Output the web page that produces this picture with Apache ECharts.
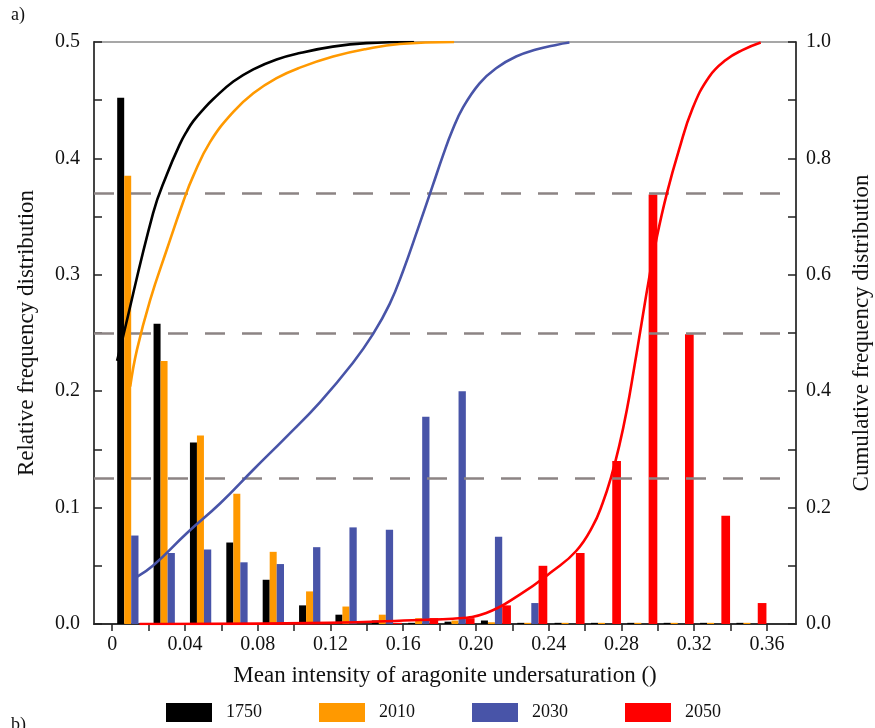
<!DOCTYPE html>
<html>
<head>
<meta charset="utf-8">
<script src="https://cdn.jsdelivr.net/npm/echarts@6/dist/echarts.min.js"></script>
<style>html,body{margin:0;padding:0;background:#fff;}#c{width:875px;height:728px;}</style>
</head>
<body>
<div id="c"></div>
<script>
// ---- data ----
const years = ['1750', '2010', '2030', '2050'];
const colors = ['#000000', '#ff9900', '#4854a8', '#ff0000'];
const binCenters = [0.011, 0.031, 0.051, 0.071, 0.091, 0.111, 0.131, 0.151, 0.171, 0.191, 0.211, 0.231, 0.2515, 0.2715, 0.2915, 0.3115, 0.3315, 0.3515];
const freq1750 = [0.452, 0.258, 0.156, 0.070, 0.038, 0.016, 0.008, 0.003, 0.001, 0.002, 0.003, 0.001, 0.001, 0.001, 0.001, 0.001, 0.001, 0.001];
const freq2010 = [0.385, 0.226, 0.162, 0.112, 0.062, 0.028, 0.015, 0.008, 0.005, 0.003, 0.0015, 0.001, 0.001, 0.001, 0.001, 0.001, 0.001, 0.001];
const freq2030 = [0.076, 0.061, 0.064, 0.053, 0.0515, 0.066, 0.083, 0.081, 0.178, 0.200, 0.075, 0.018, 0, 0, 0, 0, 0, 0];
const freq2050 = [0, 0, 0, 0, 0, 0, 0, 0.001, 0.005, 0.005, 0.016, 0.050, 0.061, 0.140, 0.369, 0.249, 0.093, 0.018];

const cumX1750 = [0.0027, 0.0053, 0.0225, 0.030, 0.0373, 0.0411, 0.0446, 0.050, 0.0556, 0.0666, 0.0776, 0.0904, 0.1032, 0.1213, 0.1398, 0.166];
const cumY1750 = [0.452, 0.485, 0.706, 0.772, 0.825, 0.847, 0.864, 0.884, 0.902, 0.932, 0.953, 0.970, 0.981, 0.992, 0.998, 1.0];
const cumX2010 = [0.0099, 0.0136, 0.0209, 0.030, 0.0391, 0.0446, 0.0538, 0.0666, 0.0776, 0.0904, 0.1032, 0.1215, 0.1398, 0.158, 0.188];
const cumY2010 = [0.408, 0.471, 0.557, 0.643, 0.726, 0.770, 0.828, 0.880, 0.912, 0.938, 0.956, 0.975, 0.988, 0.9965, 1.0];
const cumX2030 = [0.0136, 0.0227, 0.041, 0.0593, 0.0776, 0.0959, 0.1142, 0.1324, 0.1434, 0.1526, 0.160, 0.168, 0.176, 0.182, 0.187, 0.193, 0.202, 0.2111, 0.2221, 0.2331, 0.2441, 0.2514];
const cumY2030 = [0.081, 0.101, 0.156, 0.207, 0.265, 0.322, 0.381, 0.449, 0.498, 0.550, 0.607, 0.678, 0.751, 0.806, 0.848, 0.888, 0.929, 0.955, 0.975, 0.987, 0.995, 0.999];
const cumX2050 = [0.015, 0.1196, 0.169, 0.1873, 0.2057, 0.2239, 0.2422, 0.255, 0.2642, 0.2696, 0.2743, 0.2788, 0.2830, 0.2870, 0.2910, 0.2950, 0.2995, 0.3050, 0.3117, 0.319, 0.3282, 0.3374, 0.3465, 0.3566];
const cumY2050 = [0, 0.002, 0.007, 0.009, 0.019, 0.050, 0.091, 0.125, 0.168, 0.207, 0.252, 0.306, 0.368, 0.440, 0.515, 0.590, 0.665, 0.740, 0.815, 0.885, 0.940, 0.969, 0.986, 0.999];

const quartiles = [0.25, 0.5, 0.743];
const xTickValues = [0, 0.02, 0.04, 0.06, 0.08, 0.10, 0.12, 0.14, 0.16, 0.18, 0.20, 0.22, 0.24, 0.26, 0.28, 0.30, 0.32, 0.34, 0.36];
const xLabelValues = [0, 0.04, 0.08, 0.12, 0.16, 0.20, 0.24, 0.28, 0.32, 0.36];

// ---- chart ----
const FONT = '"Liberation Serif", "DejaVu Serif", serif';
const freqs = [freq1750, freq2010, freq2030, freq2050];
const cumXs = [cumX1750, cumX2010, cumX2030, cumX2050];
const cumYs = [cumY1750, cumY2010, cumY2030, cumY2050];
const barWidths = [7, 7, 7.3, 8.7];

const series = [];
years.forEach((y, i) => {
  series.push({
    name: y, type: 'bar', xAxisIndex: 0, yAxisIndex: 0,
    barWidth: barWidths[i], barGap: '0%',
    itemStyle: { color: colors[i] },
    data: binCenters.map((c, k) => [c, freqs[i][k]]),
    z: 2
  });
});
years.forEach((y, i) => {
  const s = {
    name: y, type: 'line', xAxisIndex: 0, yAxisIndex: 1,
    smooth: 0.45, showSymbol: false, symbol: 'none',
    lineStyle: { color: colors[i], width: 2.6 },
    itemStyle: { color: colors[i] },
    data: cumXs[i].map((x, k) => [x, cumYs[i][k]]),
    z: 4
  };
  if (i === 0) {
    s.markLine = {
      silent: true, symbol: 'none',
      label: { show: false },
      lineStyle: { color: '#8c8484', type: [20, 17], width: 2.5 },
      data: quartiles.map(q => ({ yAxis: q })),
      z: 3
    };
  }
  series.push(s);
});

const chart = echarts.init(document.getElementById('c'), null, { renderer: 'canvas' });
chart.setOption({
  animation: false,
  backgroundColor: '#ffffff',
  textStyle: { fontFamily: FONT },
  grid: { left: 94, right: 79, top: 42, bottom: 104, containLabel: false, outerBoundsMode: 'none',
    show: true, borderColor: '#8a8a8a', borderWidth: 1.5, backgroundColor: 'transparent' },
  legend: {
    data: years.map(y => ({ name: y, icon: 'rect' })),
    left: 161, top: 698, itemWidth: 46, itemHeight: 19, itemGap: 57,
    textStyle: { fontFamily: FONT, fontSize: 18, color: '#111', padding: [0, 0, 0, 9] },
    selectedMode: false
  },
  xAxis: {
    type: 'value', min: -0.01, max: 0.376,
    name: 'Mean intensity of aragonite undersaturation ()',
    nameLocation: 'middle', nameGap: 40,
    nameTextStyle: { fontFamily: FONT, fontSize: 23, color: '#111' },
    axisLine: { show: true, onZero: false, lineStyle: { color: '#333', width: 2 } },
    axisTick: { show: true, inside: false, length: 7, customValues: xTickValues, lineStyle: { color: '#222', width: 1.5 } },
    axisLabel: { customValues: xLabelValues, fontFamily: FONT, fontSize: 20, color: '#111', margin: 11,
      formatter: v => (Math.abs(v) < 1e-9 ? '0' : v.toFixed(2)) },
    splitLine: { show: false }
  },
  yAxis: [
    {
      type: 'value', min: 0, max: 0.5, interval: 0.05, position: 'left',
      name: 'Relative frequency distribution', nameLocation: 'middle', nameGap: 56, nameRotate: 90,
      nameTextStyle: { fontFamily: FONT, fontSize: 23, color: '#111' },
      axisLine: { show: true, onZero: false, lineStyle: { color: '#444', width: 2 } },
      axisTick: { show: true, inside: true, length: 8, lineStyle: { color: '#222', width: 1.5 } },
      axisLabel: { fontFamily: FONT, fontSize: 20, color: '#111', margin: 14,
        formatter: v => (Math.abs(v * 10 - Math.round(v * 10)) < 1e-6 ? v.toFixed(1) : '') },
      splitLine: { show: false }
    },
    {
      type: 'value', min: 0, max: 1, interval: 0.1, position: 'right',
      name: 'Cumulative frequency distribution', nameLocation: 'middle', nameGap: 54, nameRotate: 90,
      nameTextStyle: { fontFamily: FONT, fontSize: 23, color: '#111' },
      axisLine: { show: true, onZero: false, lineStyle: { color: '#222', width: 1.5 } },
      axisTick: { show: true, inside: true, length: 8, lineStyle: { color: '#222', width: 1.5 } },
      axisLabel: { fontFamily: FONT, fontSize: 20, color: '#111', margin: 10,
        formatter: v => (Math.abs(v * 5 - Math.round(v * 5)) < 1e-6 ? v.toFixed(1) : '') },
      splitLine: { show: false }
    }
  ],
  graphic: [
    { type: 'text', left: 11, top: 6, style: { text: 'a)', font: '18px ' + FONT, fill: '#111' } },
    { type: 'text', left: 11, top: 716, style: { text: 'b)', font: '18px ' + FONT, fill: '#111' } }
  ],
  series: series
});
</script>
</body>
</html>
